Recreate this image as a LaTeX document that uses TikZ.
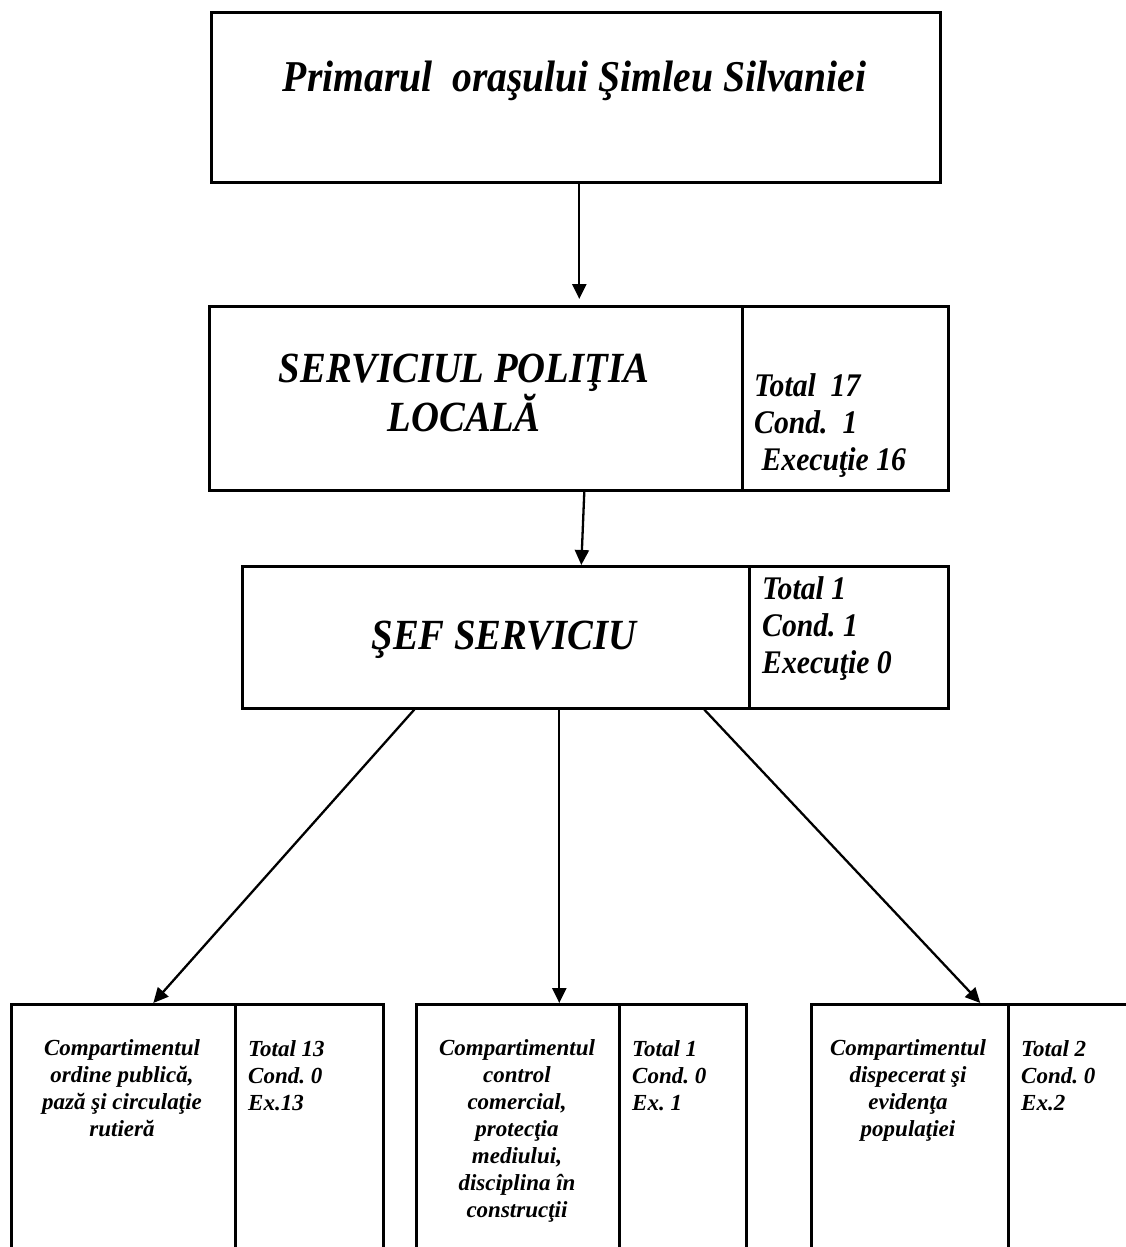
\documentclass[tikz,border=0pt]{standalone}
\usepackage{fontspec}
\setmainfont{Liberation Serif}
\newfontfamily\condfont[FakeStretch=0.9]{Liberation Serif}
\usetikzlibrary{arrows.meta,calc}
\frenchspacing
\lineskiplimit=-100pt
\tikzset{
  bx/.style={draw, line width=2.6pt, inner sep=0pt, anchor=north west},
  arr/.style={line width=2.3pt, -{Triangle[length=15pt,width=14pt]}},
  bigtxt/.style={inner sep=0pt, font=\condfont\bfseries\itshape\fontsize{43}{44}\selectfont},
  midtxt/.style={inner sep=0pt, align=left, font=\condfont\bfseries\itshape\fontsize{33}{37}\selectfont},
  smalltxt/.style={inner sep=0pt, align=center, anchor=north, font=\bfseries\itshape\fontsize{23}{27}\selectfont},
  smallnum/.style={inner sep=0pt, align=left, anchor=north west, font=\bfseries\itshape\fontsize{23}{27}\selectfont}
}
\begin{document}
\begin{tikzpicture}[x=1pt,y=-1pt]
\useasboundingbox[fill=white] (0,0) rectangle (1126,1247);
% boxes
\node[bx, minimum width=729pt, minimum height=170pt] (top) at (210,11) {};
\node[bx, minimum width=533pt, minimum height=184pt] (box2L) at (208,305) {};
\node[bx, minimum width=206pt, minimum height=184pt] (box2R) at (741,305) {};
\node[bx, minimum width=507pt, minimum height=142pt] (box3L) at (241,565) {};
\node[bx, minimum width=199pt, minimum height=142pt] (box3R) at (748,565) {};
\node[bx, minimum width=224pt, minimum height=300pt] (AL) at (10,1003) {};
\node[bx, minimum width=148pt, minimum height=300pt] (AR) at (234,1003) {};
\node[bx, minimum width=203pt, minimum height=300pt] (BL) at (415,1003) {};
\node[bx, minimum width=127pt, minimum height=300pt] (BR) at (618,1003) {};
\node[bx, minimum width=197pt, minimum height=300pt] (CL) at (810,1003) {};
\node[bx, minimum width=200pt, minimum height=300pt] (CR) at (1007,1003) {};
% texts
\node[bigtxt, anchor=base, font=\condfont\bfseries\itshape\fontsize{44}{44}\selectfont] (t1) at (574.5,92) {Primarul\ \ oraşului Şimleu Silvaniei};
\node[bigtxt, anchor=north, align=center] (t2) at (464,354) {SERVICIUL POLIŢIA\\[5pt]LOCALĂ};
\node[midtxt, anchor=north west] (t2n) at (754,373) {Total\ \ 17\\Cond.\ \ 1\\\ Execuţie 16};
\node[bigtxt, anchor=base] (t3) at (504,649) {ŞEF SERVICIU};
\node[midtxt, anchor=north west] (t3n) at (762,576) {Total 1\\Cond. 1\\Execuţie 0};
\node[smalltxt] (tA) at (122,1039) {Compartimentul\\ordine publică,\\pază şi circulaţie\\rutieră};
\node[smallnum] (tAn) at (248,1040) {Total 13\\Cond. 0\\Ex.13};
\node[smalltxt] (tB) at (517,1039) {Compartimentul\\control\\comercial,\\protecţia\\mediului,\\disciplina în\\construcţii};
\node[smallnum] (tBn) at (632,1040) {Total 1\\Cond. 0\\Ex. 1};
\node[smalltxt] (tC) at (908,1039) {Compartimentul\\dispecerat şi\\evidenţa\\populaţiei};
\node[smallnum] (tCn) at (1021,1040) {Total 2\\Cond. 0\\Ex.2};
% connectors
\draw[arr] ($(top.south)+(3.5,0)$) -- ($(box2L.north)+(103.5,-6)$);
\draw[arr] ($(box2L.south)+(108.5,0)$) -- ($(box3L.north)+(85.5,0)$);
\draw[arr] ($(box3L.south)+(-81.5,0)$) -- ($(AL.north)+(30,0)$);
\draw[arr] ($(box3L.south)+(63.5,0)$) -- ($(BL.north)+(41.5,0)$);
\draw[arr] ($(box3L.south)+(208.5,0)$) -- ($(CL.north)+(70.5,0)$);
\end{tikzpicture}
\end{document}
